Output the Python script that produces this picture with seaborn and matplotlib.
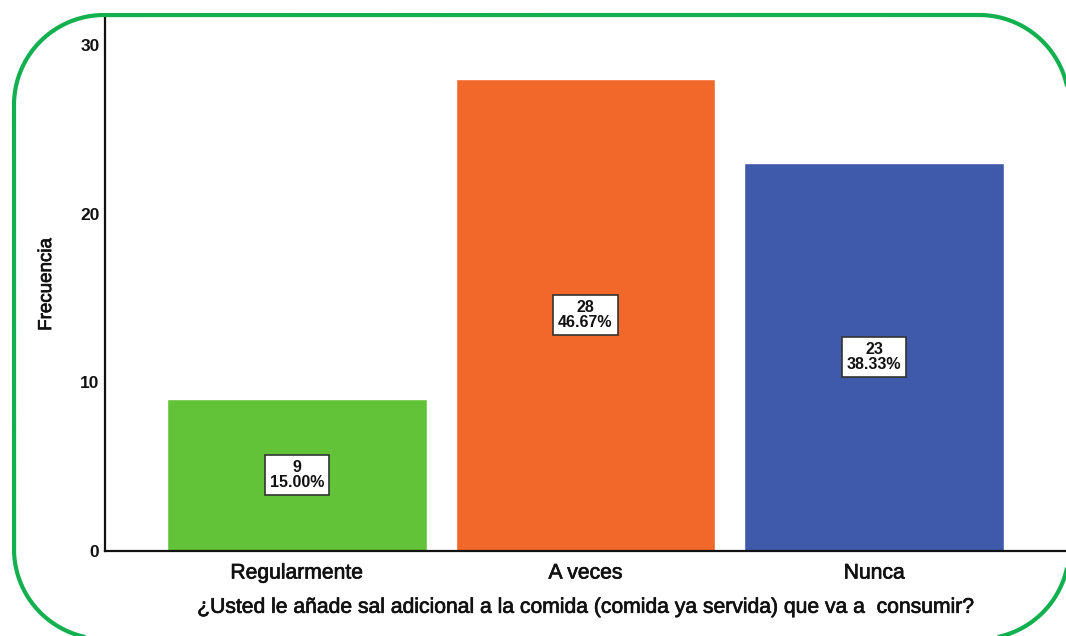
import matplotlib
matplotlib.use("Agg")
import matplotlib.pyplot as plt
import matplotlib.patheffects as pe
from matplotlib.patches import PathPatch
from matplotlib.path import Path
from matplotlib.transforms import IdentityTransform
import numpy as np
import seaborn as sns
import pandas as pd

# Frequency table
categories = ["Regularmente", "A veces", "Nunca"]
counts = [9, 28, 23]
percents = ["15.00%", "46.67%", "38.33%"]
colors = ["#62c338", "#f2682b", "#3f5aaa"]
y_ticks = [0, 10, 20, 30]

sns.set_theme(style="white")
plt.rcParams["font.family"] = ["Liberation Sans", "DejaVu Sans"]

df = pd.DataFrame({"categoria": categories, "frecuencia": counts})

W, H = 1066, 636
fig = plt.figure(figsize=(W / 100, H / 100), dpi=100)
ax = fig.add_axes([105 / W, 85 / H, 961 / W, 533 / H])

sns.barplot(data=df, x="categoria", y="frecuencia", hue="categoria",
            palette=colors, saturation=1, width=0.9, legend=False, ax=ax)

ink = "#111111"
heavier = [pe.withStroke(linewidth=0.5, foreground=ink)]

ax.set_xlim(-0.664, 2.664)
ax.set_ylim(0, 31.6)
ax.set_yticks(y_ticks)
ax.set_yticklabels([str(t) for t in y_ticks], fontsize=12.5, fontweight="bold",
                   color=ink)
ax.tick_params(axis="y", length=0, pad=4)
ax.tick_params(axis="x", length=0, pad=9)
for lbl in ax.get_xticklabels():
    lbl.set_fontsize(15.2)
    lbl.set_color(ink)
    lbl.set_path_effects(heavier)

ax.set_ylabel("Frecuencia", fontsize=13.5, color=ink, labelpad=18,
              path_effects=heavier)
ax.set_xlabel("¿Usted le añade sal adicional a la comida (comida ya servida) que va a  consumir?",
              fontsize=15.2, color=ink, labelpad=11, path_effects=heavier)

for side in ["top", "right"]:
    ax.spines[side].set_visible(False)
for side in ["left", "bottom"]:
    ax.spines[side].set_color(ink)
    ax.spines[side].set_linewidth(1.6)

# Value boxes at mid-height of each bar
for i, (c, p) in enumerate(zip(counts, percents)):
    ax.text(i, c / 2, f"{c}\n{p}", ha="center", va="center", fontsize=11.5,
            fontweight="bold", color=ink, linespacing=1.0,
            bbox=dict(boxstyle="square,pad=0.3", facecolor="white",
                      edgecolor="#333333", linewidth=1.2))

# Rounded green frame (pixel coordinates, origin bottom-left)
def rounded_rect(x0, y0, x1, y1, r, n=40):
    pts = []
    corners = [(x1 - r, y1 - r, 0), (x0 + r, y1 - r, 90),
               (x0 + r, y0 + r, 180), (x1 - r, y0 + r, 270)]
    for cx, cy, start in corners:
        t = np.radians(np.linspace(start, start + 90, n))
        pts.extend(zip(cx + r * np.cos(t), cy + r * np.sin(t)))
    pts.append(pts[0])
    return Path(pts)

frame = PathPatch(rounded_rect(14, -3, 1069, 621, 90), transform=IdentityTransform(),
                  facecolor="none", edgecolor="#12b04e", linewidth=3.0, zorder=10)
fig.add_artist(frame)

fig.savefig("out.png", dpi=100)
